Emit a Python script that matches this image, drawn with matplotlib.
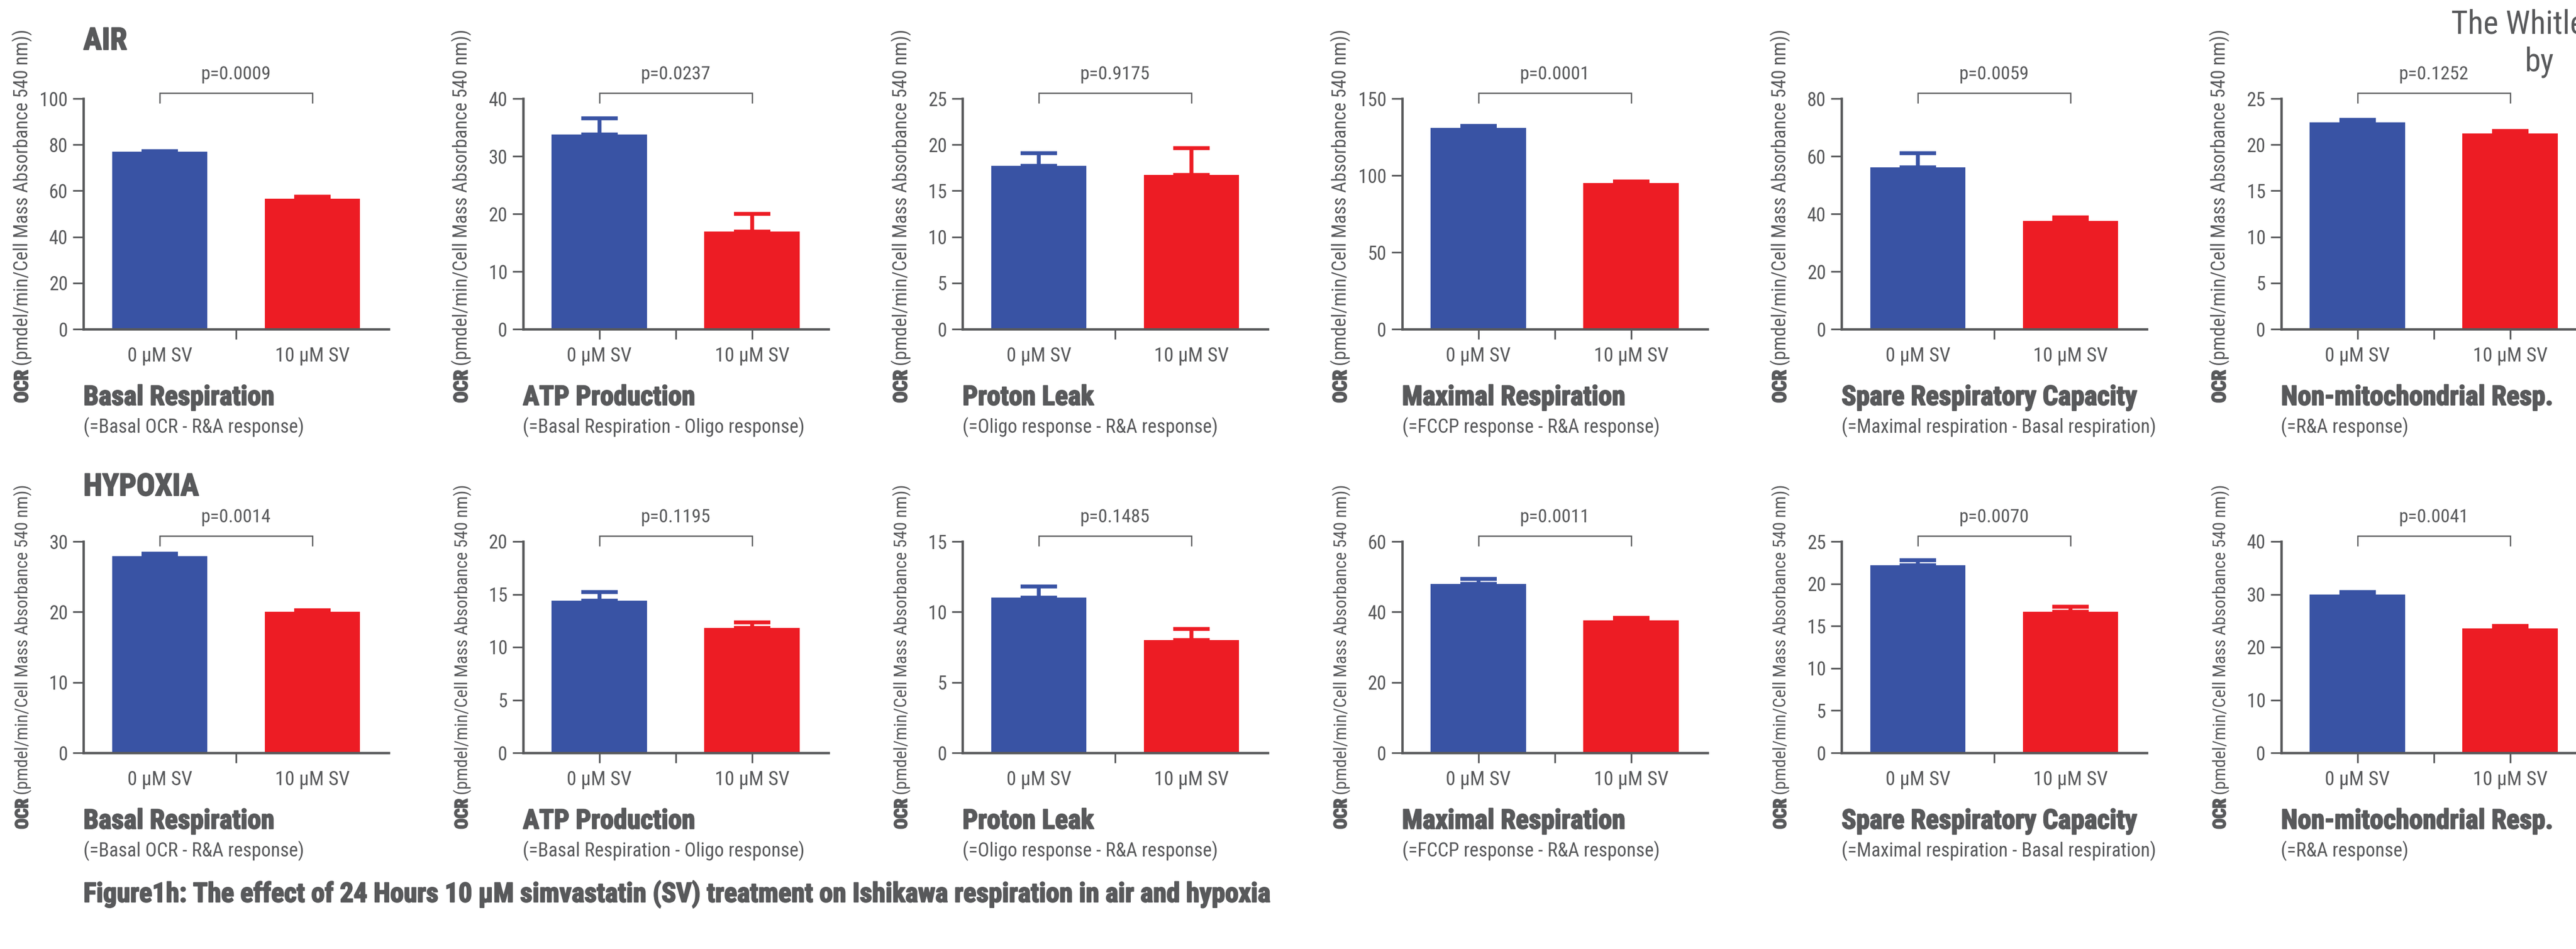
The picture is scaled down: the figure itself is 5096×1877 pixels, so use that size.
import matplotlib
matplotlib.use("Agg")
import matplotlib.pyplot as plt
from matplotlib import font_manager, patheffects
from matplotlib.transforms import blended_transform_factory
import numpy as np

# ---------------------------------------------------------------- data
conditions = ["0 µM SV", "10 µM SV"]

panel_titles = ["Basal Respiration", "ATP Production", "Proton Leak",
                "Maximal Respiration", "Spare Respiratory Capacity",
                "Non-mitochondrial Resp."]
panel_notes = ["(=Basal OCR - R&A response)",
               "(=Basal Respiration - Oligo response)",
               "(=Oligo response - R&A response)",
               "(=FCCP response - R&A response)",
               "(=Maximal respiration - Basal respiration)",
               "(=R&A response)"]

# AIR
air_mean = [[76.9, 56.6], [33.8, 16.9], [17.7, 16.7],
            [130.9, 95.1], [56.1, 37.6], [22.4, 21.2]]
air_sem = [[0.4, 0.9], [2.8, 3.1], [1.4, 2.9],
           [1.2, 1.0], [4.9, 1.2], [0.3, 0.3]]
air_p = ["p=0.0009", "p=0.0237", "p=0.9175", "p=0.0001", "p=0.0059", "p=0.1252"]
air_ymax = [100, 40, 25, 150, 80, 25]
air_ystep = [20, 10, 5, 50, 20, 5]

# HYPOXIA
hyp_mean = [[27.9, 20.0], [14.4, 11.8], [11.0, 8.0],
            [48.0, 37.6], [22.2, 16.7], [30.0, 23.5]]
hyp_sem = [[0.35, 0.25], [0.8, 0.55], [0.8, 0.8],
           [1.4, 0.7], [0.6, 0.6], [0.45, 0.5]]
hyp_p = ["p=0.0014", "p=0.1195", "p=0.1485", "p=0.0011", "p=0.0070", "p=0.0041"]
hyp_ymax = [30, 20, 15, 60, 25, 40]
hyp_ystep = [10, 5, 5, 20, 5, 10]

row_headings = ["AIR", "HYPOXIA"]
caption = ("Figure1h: The effect of 24 Hours 10 µM simvastatin (SV) treatment "
           "on Ishikawa respiration in air and hypoxia")
ylabel_bold = "OCR"
ylabel_rest = " (pmdel/min/Cell Mass Absorbance 540 nm))"

# ---------------------------------------------------------------- style
BLUE = "#3953A4"
RED = "#ED1C24"
GRAY = "#58595B"

available = {f.name for f in font_manager.fontManager.ttflist}


def pick(names):
    for n in names:
        if n in available:
            return n
    return "DejaVu Sans"


FONT = pick(["Liberation Sans Narrow", "Roboto Condensed", "Roboto",
             "Liberation Sans"])
plt.rcParams["font.family"] = [FONT, "DejaVu Sans"]
plt.rcParams["text.color"] = GRAY

W, H, DPI = 5096, 1877, 100
fig = plt.figure(figsize=(W / DPI, H / DPI), dpi=DPI)
fig.patch.set_facecolor("white")
renderer = fig.canvas.get_renderer()

HEAVY = [patheffects.withStroke(linewidth=1.6, foreground=GRAY)]


def fx(x):
    return x / W


def fy(y):
    return 1 - y / H


def text_width(s, size, weight="normal"):
    t = fig.text(0, 0, s, fontsize=size, fontweight=weight)
    w = t.get_window_extent(renderer).width
    t.remove()
    return w


def fit(s, target_px, weight="normal", base=30.0):
    """Font size (pt) at which string s spans target_px pixels."""
    return base * target_px / text_width(s, base, weight)


# font sizes set from the pixel widths of typical strings
FS_YTICK = fit("100", 56)
FS_XTICK = fit("10 µM SV", 148)
FS_P = fit("p=0.0009", 138)
FS_TITLE = fit("Basal Respiration", 378, "bold")
FS_NOTE = fit("(=Basal OCR - R&A response)", 436)
FS_HEAD = fit("HYPOXIA", 228, "bold")
FS_CAP = fit(caption, 2350, "bold")
FS_TOP = fit("The Whitl", 235)
_yl_base = text_width(ylabel_bold, 30, "bold") + text_width(ylabel_rest, 30)
FS_YLABEL = [30 * 738 / _yl_base, 30 * 683 / _yl_base]

LEFT0 = 165
PITCH = 869.5
AXW = 604
ROWS = [(195, 651), (1071, 1489)]
YLABEL_START = [797, 1640]
PX2PT = 72 / DPI


def draw_panel(ax, means, sems, ymax, ystep, ptxt, bar_ticks, ax_h):
    x = np.arange(len(conditions))
    colors = [BLUE, RED]
    ax.bar(x, means, width=0.625, color=colors, zorder=2, linewidth=0)
    for xi, m, s, c in zip(x, means, sems, colors):
        ax.errorbar(xi, m, yerr=[[0], [s]], fmt="none", ecolor=c,
                    elinewidth=5.5, capsize=26, capthick=5.5, zorder=3)
    ax.set_xlim(-0.5, 1.5)
    ax.set_ylim(0, ymax)
    ax.set_yticks(np.arange(0, ymax + ystep / 2, ystep))
    ax.set_xticks(x, conditions)
    ax.set_xticks([0.5], minor=True)
    for side in ("top", "right"):
        ax.spines[side].set_visible(False)
    for side in ("left", "bottom"):
        ax.spines[side].set_color(GRAY)
        ax.spines[side].set_linewidth(3.4)
    ax.tick_params(axis="y", direction="out", length=21 * PX2PT, width=2.4,
                   color=GRAY, labelcolor=GRAY, labelsize=FS_YTICK, pad=7)
    ax.tick_params(axis="x", which="major", direction="out",
                   length=20 * PX2PT, width=2.4,
                   color=GRAY if bar_ticks else (0, 0, 0, 0),
                   labelcolor=GRAY, labelsize=FS_XTICK, pad=11)
    ax.tick_params(axis="x", which="minor", direction="out",
                   length=20 * PX2PT, width=2.4, color=GRAY)
    # significance bracket between the two bars
    trans = blended_transform_factory(ax.transData, ax.transAxes)
    y_line = 1 + 11 / ax_h
    y_leg = 1 - 8 / ax_h
    ax.plot([0, 0, 1, 1], [y_leg, y_line, y_line, y_leg], transform=trans,
            clip_on=False, color=GRAY, lw=1.8, solid_joinstyle="miter")
    ax.text(0.5, 1 + 48 / ax_h, ptxt, transform=trans, ha="center",
            va="center", fontsize=FS_P, color=GRAY)


datasets = [
    (air_mean, air_sem, air_ymax, air_ystep, air_p),
    (hyp_mean, hyp_sem, hyp_ymax, hyp_ystep, hyp_p),
]

for r, (means, sems, ymaxs, ysteps, ps) in enumerate(datasets):
    top, bot = ROWS[r]
    ax_h = bot - top
    for i in range(6):
        left = LEFT0 + i * PITCH
        ax = fig.add_axes([fx(left), fy(bot), AXW / W, ax_h / H])
        draw_panel(ax, means[i], sems[i], ymaxs[i], ysteps[i], ps[i],
                   bar_ticks=(i % 2 == 1), ax_h=ax_h)

        # panel title and its definition below the axis
        fig.text(fx(left), fy(bot + 150), panel_titles[i], fontsize=FS_TITLE,
                 fontweight="bold", ha="left", va="baseline", color=GRAY,
                 path_effects=HEAVY)
        fig.text(fx(left), fy(bot + 205), panel_notes[i], fontsize=FS_NOTE,
                 ha="left", va="baseline", color=GRAY)

        # rotated y label: bold "OCR" followed by the unit in regular weight
        xb = left - 110
        yb = YLABEL_START[r]
        t1 = fig.text(fx(xb), fy(yb), ylabel_bold, rotation=90,
                      rotation_mode="anchor", ha="left", va="baseline",
                      fontsize=FS_YLABEL[r], fontweight="bold", color=GRAY,
                      path_effects=HEAVY)
        bb = t1.get_window_extent(renderer)
        fig.text(fx(xb), fy(yb) + bb.height / H, ylabel_rest, rotation=90,
                 rotation_mode="anchor", ha="left", va="baseline",
                 fontsize=FS_YLABEL[r], color=GRAY)

# row headings
fig.text(fx(LEFT0), fy(98), row_headings[0], fontsize=FS_HEAD,
         fontweight="bold", ha="left", va="baseline", color=GRAY,
         path_effects=HEAVY)
fig.text(fx(LEFT0), fy(980), row_headings[1], fontsize=FS_HEAD,
         fontweight="bold", ha="left", va="baseline", color=GRAY,
         path_effects=HEAVY)

# figure caption
fig.text(fx(LEFT0), fy(1784), caption, fontsize=FS_CAP, fontweight="bold",
         ha="left", va="baseline", color=GRAY, path_effects=HEAVY)

# running header at the top right
fig.text(fx(4849), fy(66), "The Whitley", fontsize=FS_TOP, ha="left",
         va="baseline", color=GRAY)
fig.text(fx(4995), fy(140), "by", fontsize=FS_TOP, ha="left",
         va="baseline", color=GRAY)

fig.savefig("out.png", dpi=DPI, facecolor="white")
